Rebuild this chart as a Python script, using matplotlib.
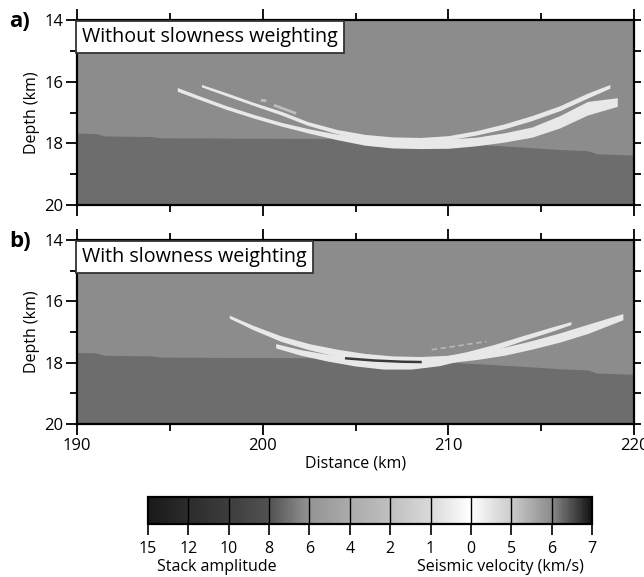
"""Two stacked depth sections (with / without slowness weighting) plus a shared grey scale bar."""

import matplotlib
matplotlib.use("Agg")
import matplotlib.pyplot as plt
import numpy as np
from matplotlib.colors import LinearSegmentedColormap, Normalize
from matplotlib.colorbar import ColorbarBase

plt.rcParams["font.family"] = ["Open Sans", "DejaVu Sans"]

# --- layer boundary (top of the faster lower layer), same in both panels ---
layer_x = [190.0, 191.0, 191.5, 194.0, 194.5, 206.0, 209.0, 212.0, 214.0, 216.0, 217.5, 218.0, 220.0]
layer_depth = [17.67, 17.68, 17.76, 17.78, 17.82, 17.85, 17.95, 18.05, 18.12, 18.20, 18.24, 18.34, 18.38]

# --- panel a: stacked arcs without slowness weighting (top / bottom edge, km) ---
a_arc1_x = [195.4, 196.5, 198.0, 199.5, 201.0, 202.5, 204.0, 205.5, 207.0, 208.5, 210.0, 211.5, 213.0, 214.5, 216.0, 217.5, 219.1]
a_arc1_top = [16.19, 16.44, 16.77, 17.06, 17.32, 17.53, 17.70, 17.78, 17.84, 17.87, 17.86, 17.80, 17.66, 17.47, 17.10, 16.64, 16.52]
a_arc1_bot = [16.31, 16.56, 16.89, 17.18, 17.44, 17.67, 17.88, 18.06, 18.15, 18.17, 18.16, 18.08, 17.96, 17.80, 17.50, 17.08, 16.80]

a_arc2_x = [196.7, 198.0, 199.5, 201.0, 202.4, 204.0, 205.5, 207.0, 208.5, 210.0, 211.5, 213.0, 214.5, 216.0, 217.5, 218.7]
a_arc2_top = [16.09, 16.35, 16.67, 16.96, 17.29, 17.55, 17.71, 17.79, 17.81, 17.75, 17.59, 17.37, 17.10, 16.78, 16.37, 16.09]
a_arc2_bot = [16.17, 16.45, 16.77, 17.08, 17.41, 17.69, 17.85, 17.93, 17.95, 17.89, 17.73, 17.53, 17.26, 16.94, 16.53, 16.21]

a_frag1_x = [199.9, 200.2]
a_frag1_depth = [16.60, 16.62]
a_frag2_x = [200.6, 201.8]
a_frag2_depth = [16.76, 17.03]

# --- panel b: stacked arcs with slowness weighting ---
b_arc1_x = [198.2, 199.5, 201.0, 202.5, 204.0, 205.5, 207.0, 208.5, 210.0, 211.5, 213.0, 214.5, 216.0, 217.5, 219.4]
b_arc1_top = [16.45, 16.79, 17.13, 17.38, 17.56, 17.70, 17.78, 17.80, 17.76, 17.66, 17.50, 17.28, 17.03, 16.75, 16.40]
b_arc1_bot = [16.55, 16.93, 17.31, 17.58, 17.80, 17.94, 18.02, 18.04, 18.00, 17.90, 17.76, 17.56, 17.33, 17.05, 16.60]

b_arc2_x = [200.7, 202.0, 203.5, 205.0, 206.5, 208.0, 209.5, 211.0, 212.5, 214.0, 215.5, 216.6]
b_arc2_top = [17.38, 17.57, 17.73, 17.85, 17.91, 17.91, 17.82, 17.64, 17.40, 17.12, 16.85, 16.66]
b_arc2_bot = [17.52, 17.75, 17.95, 18.11, 18.21, 18.21, 18.10, 17.88, 17.60, 17.28, 16.99, 16.76]

b_dark_x = [204.5, 206.0, 207.5, 208.5]
b_dark_depth = [17.86, 17.93, 17.97, 17.98]
b_frag_x = [209.1, 212.06]
b_frag_depth = [17.58, 17.31]

# --- scale bar ---
scale_labels = ["15", "12", "10", "8", "6", "4", "2", "1", "0", "5", "6", "7"]
scale_grey = [0.10, 0.17, 0.24, 0.32, 0.58, 0.67, 0.75, 0.85, 1.00, 0.80, 0.55, 0.08]

X_MIN, X_MAX = 190, 220
D_MIN, D_MAX = 14, 20
UPPER_GREY = "#8c8c8c"
LOWER_GREY = "#6d6d6d"
ARC_COLOR = "#e8e8e8"


def draw_section(ax, arcs, label):
    ax.set_facecolor(UPPER_GREY)
    ax.fill_between(layer_x, layer_depth, D_MAX, color=LOWER_GREY, lw=0)
    for x, top, bot in arcs:
        ax.fill_between(x, top, bot, color=ARC_COLOR, lw=0)
    ax.set_xlim(X_MIN, X_MAX)
    ax.set_ylim(D_MAX, D_MIN)
    ax.set_xticks([190, 200, 210, 220])
    ax.set_xticks([195, 205, 215], minor=True)
    ax.set_yticks([14, 16, 18, 20])
    ax.set_yticks([15, 17, 19], minor=True)
    ax.tick_params(which="major", direction="out", length=8, width=1.3, top=True, labelsize=12, pad=2)
    ax.tick_params(which="minor", direction="out", length=5, width=1.3, top=True)
    right = ax.secondary_yaxis("right")
    right.set_yticks([14, 15, 16, 17, 18, 19, 20])
    right.tick_params(direction="out", length=5, width=1.3, labelright=False)
    right.spines["right"].set_visible(False)
    for s in ax.spines.values():
        s.set_linewidth(1.6)
    ax.set_ylabel("Depth (km)", fontsize=11.5, labelpad=3)
    ax.text(0.009, 0.962, label, transform=ax.transAxes, ha="left", va="top", fontsize=14.2,
            bbox=dict(boxstyle="square,pad=0.32", facecolor="white", edgecolor="#333333", linewidth=1.3))


fig = plt.figure(figsize=(6.44, 5.77), dpi=100)
ax_a = fig.add_axes([0.1196, 0.6447, 0.8649, 0.3206])
ax_b = fig.add_axes([0.1196, 0.2652, 0.8649, 0.3189])

draw_section(ax_a, [(a_arc1_x, a_arc1_top, a_arc1_bot), (a_arc2_x, a_arc2_top, a_arc2_bot)],
             "Without slowness weighting")
ax_a.plot(a_frag1_x, a_frag1_depth, color="#bdbdbd", lw=2, solid_capstyle="butt")
ax_a.plot(a_frag2_x, a_frag2_depth, color="#bdbdbd", lw=2, solid_capstyle="butt")
ax_a.tick_params(labelbottom=False)

draw_section(ax_b, [(b_arc1_x, b_arc1_top, b_arc1_bot), (b_arc2_x, b_arc2_top, b_arc2_bot)],
             "With slowness weighting")
ax_b.plot(b_dark_x, b_dark_depth, color="#3a3a3a", lw=1.8)
ax_b.plot(b_frag_x, b_frag_depth, color="#b5b5b5", lw=1.3, ls=(0, (3, 2)))
ax_b.set_xlabel("Distance (km)", fontsize=11.5, labelpad=1)

fig.text(0.014, 0.962, "a)", fontsize=16, fontweight="bold", ha="left", va="center")
fig.text(0.014, 0.582, "b)", fontsize=16, fontweight="bold", ha="left", va="center")

# --- grey scale bar ---
n_seg = len(scale_labels) - 1
nodes = [(i / n_seg, (g, g, g)) for i, g in enumerate(scale_grey)]
cmap = LinearSegmentedColormap.from_list("stack_vel", nodes)
cax = fig.add_axes([0.2298, 0.0919, 0.6894, 0.0468])
cb = ColorbarBase(cax, cmap=cmap, norm=Normalize(0, n_seg), orientation="horizontal",
                  ticks=np.arange(n_seg + 1))
cb.set_ticklabels(scale_labels)
cb.outline.set_linewidth(1.6)
cax.tick_params(direction="out", length=8, width=1.2, labelsize=11.5, pad=4)
for i in range(1, n_seg):
    cax.axvline(i, color="black", lw=1.0)
fig.text(0.337, 0.004, "Stack amplitude", fontsize=11.5, ha="center", va="bottom")
fig.text(0.777, 0.004, "Seismic velocity (km/s)", fontsize=11.5, ha="center", va="bottom")

fig.savefig("out.png", dpi=100)
